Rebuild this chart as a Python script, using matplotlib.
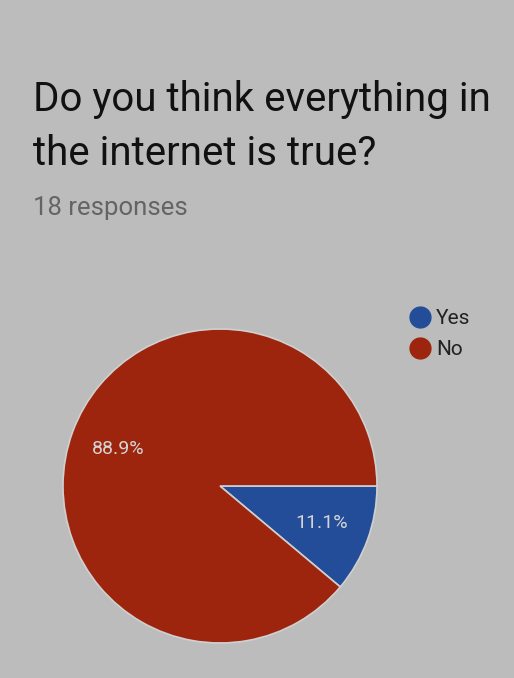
import matplotlib.pyplot as plt
from matplotlib.lines import Line2D

# Dati del sondaggio
labels = ['Yes', 'No']
counts = [2, 16]
colors = ['#234d98', '#9d250d']

title_lines = ['Do you think everything in', 'the internet is true?']
subtitle = '18 responses'

plt.rcParams['font.family'] = ['Roboto', 'DejaVu Sans']
bg = '#bcbcbc'

fig = plt.figure(figsize=(5.14, 6.78), dpi=100, facecolor=bg)

fig.text(33 / 514, 1 - 111 / 678, title_lines[0], fontsize=29,
         color='#111111', va='baseline', ha='left')
fig.text(33 / 514, 1 - 165 / 678, title_lines[1], fontsize=29,
         color='#111111', va='baseline', ha='left')
fig.text(33 / 514, 1 - 215 / 678, subtitle, fontsize=18.5,
         color='#646464', va='baseline', ha='left')

ax = fig.add_axes([63 / 514, 35 / 678, 314 / 514, 314 / 678])
ax.set_facecolor(bg)
wedges, texts, autotexts = ax.pie(
    counts, colors=colors, startangle=0, counterclock=False,
    autopct='%1.1f%%', pctdistance=0.69, radius=1,
    wedgeprops=dict(edgecolor='#d0d0d0', linewidth=1.2),
    textprops=dict(color='#d4d4d4', fontsize=14))
ax.set_xlim(-1, 1)
ax.set_ylim(-1, 1)
ax.set_aspect('equal')
ax.axis('off')

handles = [Line2D([], [], marker='o', linestyle='', markersize=15,
                  markerfacecolor=c, markeredgecolor=c) for c in colors]
leg = fig.legend(handles, labels, loc='upper left',
                 bbox_to_anchor=(407 / 514, 1 - 309 / 678), frameon=False,
                 fontsize=15, handletextpad=0.2, labelspacing=0.6,
                 handlelength=1.2, borderpad=0, borderaxespad=0)
for t in leg.get_texts():
    t.set_color('#222222')

fig.savefig('out.png', dpi=100, facecolor=bg)
